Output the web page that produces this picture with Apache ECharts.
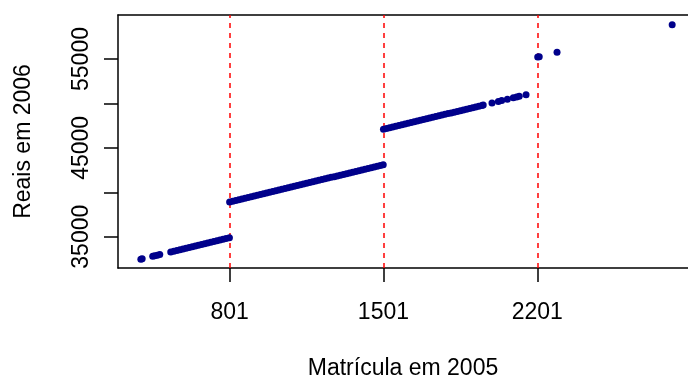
<!DOCTYPE html>
<html>
<head>
<meta charset="utf-8">
<script src="https://cdn.jsdelivr.net/npm/echarts@6/dist/echarts.min.js"></script>
<style>
  html, body { margin: 0; padding: 0; background: #fff; }
  #chart { width: 688px; height: 378px; }
</style>
</head>
<body>
<div id="chart"></div>
<script>
// Matrícula (x) e salário em reais (y), por faixa
var seg1X = [397, 403, 451, 460, 472, 483, 533, 547, 561, 575, 589, 603, 617, 631, 645, 659,
             673, 687, 701, 715, 729, 743, 757, 771, 785, 800];
var seg1Y = [32472, 32508, 32796, 32850, 32922, 32988, 33288, 33372, 33456, 33540, 33624, 33708,
             33792, 33876, 33960, 34044, 34128, 34212, 34296, 34380, 34464, 34548, 34632, 34716,
             34800, 34890];

var seg2X = [801, 815, 829, 843, 857, 871, 885, 899, 913, 927, 941, 955, 969, 983, 997, 1011,
             1025, 1039, 1053, 1067, 1081, 1095, 1109, 1123, 1137, 1151, 1165, 1179, 1193, 1207,
             1221, 1235, 1249, 1263, 1277, 1291, 1305, 1319, 1333, 1347, 1361, 1375, 1389, 1403,
             1417, 1431, 1445, 1459, 1473, 1487, 1500];
var seg2Y = [38905, 38989, 39073, 39157, 39241, 39325, 39409, 39493, 39577, 39661, 39745, 39829,
             39913, 39997, 40081, 40165, 40249, 40333, 40417, 40501, 40585, 40669, 40753, 40837,
             40921, 41005, 41089, 41173, 41257, 41341, 41425, 41509, 41593, 41677, 41761, 41845,
             41929, 42013, 42097, 42181, 42265, 42349, 42433, 42517, 42601, 42685, 42769, 42853,
             42937, 43021, 43099];

var seg3X = [1501, 1515, 1529, 1543, 1557, 1571, 1585, 1599, 1613, 1627, 1641, 1655, 1669, 1683,
             1697, 1711, 1725, 1739, 1753, 1767, 1781, 1795, 1809, 1823, 1837, 1851, 1865, 1879,
             1893, 1907, 1921, 1935, 1949, 1955, 1995, 2024, 2039, 2065, 2092, 2107, 2119, 2150];
var seg3Y = [47088, 47172, 47256, 47340, 47424, 47508, 47592, 47676, 47760, 47844, 47928, 48012,
             48096, 48180, 48264, 48348, 48432, 48516, 48600, 48684, 48768, 48852, 48936, 49020,
             49104, 49188, 49272, 49356, 49440, 49524, 49608, 49692, 49776, 49812, 50052, 50226,
             50316, 50472, 50634, 50724, 50796, 50982];

var seg4X = [2203, 2210, 2291, 2815];
var seg4Y = [55230, 55260, 55754, 58860];

var cutoffs = [801, 1501, 2201];
var xTicks = [801, 1501, 2201];
var yTicks = [35000, 40000, 45000, 50000, 55000];
var yLabels = [35000, 45000, 55000];

var chartDom = document.getElementById('chart');
var myChart = echarts.init(chartDom);

function zip(xs, ys) {
    return xs.map(function(x, i) { return [x, ys[i]]; });
}
var points = [].concat(zip(seg1X, seg1Y), zip(seg2X, seg2Y), zip(seg3X, seg3Y), zip(seg4X, seg4Y));

var font = 'Liberation Sans, Arial, Helvetica, sans-serif';
var plain = function(v) { return String(v); };
var xMin = 293, xMax = 2887;

var option = {
    animation: false,
    backgroundColor: '#fff',
    grid: { left: 118, top: 15, right: 0, bottom: 110, show: false, outerBoundsMode: 'none', containLabel: false },
    xAxis: [
        {
            type: 'value',
            min: xMin, max: xMax,
            name: 'Matrícula em 2005',
            nameLocation: 'middle',
            nameGap: 89,
            nameTextStyle: { fontFamily: font, fontSize: 23, color: '#000' },
            axisLine: { show: true, onZero: false, lineStyle: { color: '#000', width: 1.5 } },
            axisTick: { show: true, length: 14, customValues: xTicks, lineStyle: { color: '#000', width: 1.5 } },
            axisLabel: { customValues: xTicks, formatter: plain, margin: 33, fontFamily: font, fontSize: 23, color: '#000' },
            splitLine: { show: false }
        },
        {
            // top edge of the box
            type: 'value',
            position: 'top',
            min: xMin, max: xMax,
            axisLine: { show: true, onZero: false, lineStyle: { color: '#000', width: 1.5 } },
            axisTick: { show: false },
            axisLabel: { show: false },
            splitLine: { show: false }
        }
    ],
    yAxis: {
        type: 'value',
        min: 31477, max: 59952,
        name: 'Reais em 2006',
        nameLocation: 'middle',
        nameGap: 83,
        nameTextStyle: { fontFamily: font, fontSize: 23, color: '#000' },
        axisLine: { show: true, onZero: false, lineStyle: { color: '#000', width: 1.5 } },
        axisTick: { show: true, length: 14, customValues: yTicks, lineStyle: { color: '#000', width: 1.5 } },
        axisLabel: { customValues: yLabels, formatter: plain, rotate: 90, margin: 25, fontFamily: font, fontSize: 23, color: '#000' },
        splitLine: { show: false }
    },
    series: [
        {
            type: 'scatter',
            data: points,
            symbol: 'circle',
            symbolSize: 7,
            itemStyle: { color: '#00008B', opacity: 1 },
            z: 3,
            markLine: {
                silent: true,
                symbol: 'none',
                label: { show: false },
                lineStyle: { color: '#FF0000', type: [5, 5], width: 1.5 },
                data: cutoffs.map(function(c) { return { xAxis: c }; }),
                z: 2
            }
        }
    ]
};

myChart.setOption(option);
</script>
</body>
</html>
